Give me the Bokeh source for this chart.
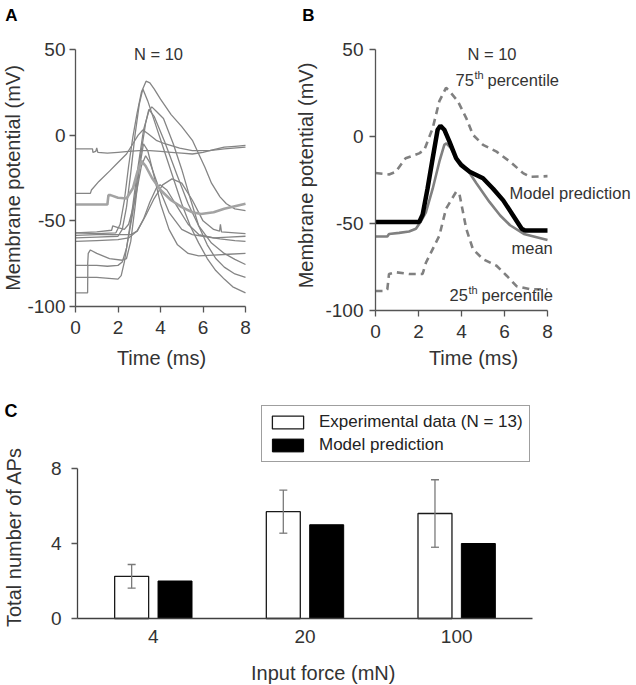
import math
from bokeh.plotting import figure
from bokeh.models import (Range1d, FixedTicker, Label, Legend, LegendItem,
                          Whisker, TeeHead, ColumnDataSource)
from bokeh.layouts import column, row
from bokeh.embed import file_html
from bokeh.resources import INLINE

# ---------------- DATA ----------------
# Panel A: individual recorded traces (time in ms, membrane potential in mV)
t_tr0 = [0, 0.8, 0.82, 0.95, 1.0, 1.05, 1.5, 2.0, 2.5, 3.0, 3.5, 4.0, 4.5, 5.0, 5.5, 6.0, 6.5, 7.0, 7.5, 8.0]
v_tr0 = [-8, -8, -10, -9.5, -7.5, -10, -10.5, -10, -9.5, -9, -9, -9.5, -10, -10.5, -11, -10, -8.5, -7, -6.5, -6]

t_tr1 = [0, 0.7, 0.75, 1.1, 1.6, 2.0, 2.4, 2.7, 2.95, 3.17, 3.4, 3.8, 4.2, 4.9, 5.5, 6.3, 7.0, 8.0]
v_tr1 = [-34, -34, -32, -27, -21, -16, -11, -5, 0, 3, 1, -3, -5, -7.5, -9, -9, -8, -7]

t_tr2 = [0, 1.5, 1.55, 1.65, 2.0, 2.4, 2.7, 2.9, 3.1, 3.3, 3.6, 4.0, 4.5, 5.0, 5.5, 5.9, 6.5, 7.0, 8.0]
v_tr2 = [-40.5, -40.5, -35, -35, -36.5, -37, -31, -22, -15, -18, -25, -32, -38, -42, -45, -46, -45, -43, -40]

t_tr3 = [0, 1.0, 1.9, 2.1, 2.3, 2.5, 2.7, 2.9, 3.1, 3.32, 3.5, 3.7, 4.0, 4.5, 5.0, 5.5, 5.8, 6.1, 6.4, 6.8, 7.1, 7.5, 8.0]
v_tr3 = [-57, -57.5, -57, -52, -38, -18, -1, 13, 25, 31.5, 30.5, 27, 21, 12, 5, -3, -11, -19, -28, -36, -40, -43, -44]

t_tr4 = [0, 1.0, 2.0, 2.2, 2.4, 2.6, 2.8, 3.0, 3.17, 3.4, 3.8, 4.2, 4.6, 5.0, 5.4, 5.8, 6.2, 6.6, 7.0, 7.4, 8.0]
v_tr4 = [-60, -59.5, -59, -55, -42, -22, 0, 18, 27, 20, 5, -10, -25, -40, -53, -63, -72, -79, -84, -88.5, -92]

t_tr5 = [0, 1.0, 2.0, 2.15, 2.3, 2.6, 2.9, 3.2, 3.45, 3.59, 3.8, 4.14, 4.6, 5.0, 5.4, 5.8, 6.2, 6.6, 7.0, 7.5, 8.0]
v_tr5 = [-83, -83, -84, -82, -74, -50, -22, 3, 14, 16.5, 14, 9.7, -5, -20, -37, -53, -64, -72, -77, -81, -83]

t_tr6 = [0, 0.57, 0.58, 1.0, 1.5, 2.0, 2.2, 2.4, 2.7, 3.0, 3.3, 3.45, 3.7, 4.2, 4.8, 5.3, 5.8, 6.4, 7.0, 7.5, 8.0]
v_tr6 = [-92, -92, -76, -76, -76.5, -76, -74, -66, -45, -17, 7, 15, 11, -4, -24, -40, -53, -63, -69, -72.5, -75.5]

t_tr7 = [0, 0.57, 0.6, 0.7, 1.0, 1.6, 2.2, 2.4, 2.6, 2.8, 3.0, 3.2, 3.4, 3.7, 4.0, 4.4, 4.8, 5.3, 5.8, 6.5, 7.2, 8.0]
v_tr7 = [-76, -76, -69, -67, -69, -72, -73, -72, -62, -42, -20, -5, -9, -24, -40, -55, -64, -69, -70.5, -70, -69.5, -69]

t_tr8 = [0, 1.0, 1.7, 1.75, 2.0, 2.3, 2.5, 2.8, 3.1, 3.3, 3.5, 3.9, 4.4, 5.0, 5.5, 6.0, 6.8, 7.5, 8.0]
v_tr8 = [-57, -56.5, -55.5, -53, -54, -55, -52, -38, -18, -12, -16, -30, -45, -55, -58, -59, -60.5, -61.5, -62]

t_tr9 = [0, 1.0, 2.0, 2.5, 2.9, 3.3, 3.7, 4.1, 4.54, 5.0, 5.5, 6.0, 6.5, 6.78, 6.82, 6.87, 7.5, 8.0]
v_tr9 = [-62, -61.5, -61, -60, -56, -47, -37, -29, -25.5, -28, -38, -50, -55, -56, -52, -56.5, -57, -57.5]

t_tr10 = [0, 1.0, 2.0, 2.6, 2.9, 3.2, 3.5, 3.8, 3.98, 4.3, 4.8, 5.3, 5.8, 6.5, 7.2, 8.0]
v_tr10 = [-58.5, -58, -58, -58, -56, -49, -39, -31, -29, -32, -42, -52, -58, -60, -59.5, -59]

# Panel B: summary curves
t_model = [0, 2.03, 2.19, 2.42, 2.66, 2.89, 3.02, 3.2, 3.44, 3.75, 3.98, 4.38, 5.0, 5.47, 5.94, 6.4, 6.8, 6.95, 8.0]
v_model = [-49.2, -49.2, -45, -30, -12.5, 3.9, 6.2, 3.9, -2.9, -12.5, -16.4, -20.3, -24, -30, -36.7, -45.4, -53, -54, -54]

t_mean = [0, 0.55, 0.63, 1.1, 1.56, 1.88, 2.1, 2.35, 2.66, 2.97, 3.2, 3.3, 3.52, 3.75, 4.23, 4.7, 5.3, 5.8, 6.26, 6.9, 8.0]
v_mean = [-57.5, -57.5, -56, -55.4, -54.6, -53, -49, -43.4, -30, -14.5, -4.8, -3.9, -6.8, -12.5, -18.3, -27, -37.6, -45.4, -51, -56, -59.5]

t_p75 = [0, 0.63, 0.94, 1.4, 2.03, 2.27, 2.66, 2.97, 3.28, 3.44, 3.83, 4.22, 4.53, 5.0, 5.63, 6.26, 6.88, 7.2, 8.0]
v_p75 = [-21, -21.8, -20.3, -12.5, -9.7, -7.7, 4.8, 20.3, 28, 26, 20.3, 10.6, 1, -4.8, -8.7, -14.5, -21.2, -23.2, -22.8]

t_p25 = [0, 0.47, 0.55, 0.63, 0.94, 1.56, 2.19, 2.35, 2.66, 2.97, 3.28, 3.75, 3.9, 4.22, 4.53, 5.0, 5.63, 6.1, 6.56, 7.2, 8.0]
v_p25 = [-88.8, -88.8, -87.8, -79, -78, -79, -79, -72.4, -64.7, -57, -41.5, -31.8, -32.8, -53, -64.7, -70.5, -74.3, -80, -86, -87.8, -87.8]

# Panel C: bar chart
forces = ["4", "20", "100"]
exp_mean = [2.25, 5.7, 5.6]
exp_err = [0.63, 1.15, 1.8]
model_aps = [2, 5, 4]

time_ticks = [0, 2, 4, 6, 8]
vm_ticks = [-100, -50, 0, 50]
ap_ticks = [0, 4, 8]

# ---------------- STYLE ----------------
FONT = "Liberation Sans"
TXT = "#333333"
AX = "#555555"
TRACE = "#858585"
THICK = "#a3a3a3"
GREY = "#808080"


def style(p, xstand, ystand, xloc, yloc, xbounds, ybounds, xtick_out=6):
    p.grid.visible = False
    p.outline_line_color = None
    for ax in p.axis:
        ax.axis_line_color = AX
        ax.axis_line_width = 1.3
        ax.major_tick_line_color = AX
        ax.major_tick_line_width = 1.3
        ax.major_tick_in = 0
        ax.major_tick_out = 6
        ax.minor_tick_line_color = None
        ax.major_label_text_font = FONT
        ax.major_label_text_font_size = "19px"
        ax.major_label_text_color = TXT
    p.xaxis.major_label_standoff = xstand
    p.yaxis.major_label_standoff = ystand
    p.xaxis.major_tick_out = xtick_out
    p.xaxis.fixed_location = xloc
    p.yaxis.fixed_location = yloc
    p.xaxis.bounds = xbounds
    p.yaxis.bounds = ybounds


def lab(p, x, y, text, size="16.5px", align="left", angle=0.0, bold=False, color=TXT):
    p.add_layout(Label(x=x, y=y, text=text, text_font=FONT, text_font_size=size,
                       text_color=color, text_align=align, text_baseline="middle",
                       angle=angle, text_font_style="bold" if bold else "normal"))


def fig(w, h, xr, yr):
    return figure(width=w, height=h, x_range=Range1d(*xr), y_range=Range1d(*yr),
                  min_border=0, min_border_left=0, min_border_right=0,
                  min_border_top=0, min_border_bottom=0,
                  toolbar_location=None, output_backend="svg")


hyphen = {-100: "-100", -50: "-50"}

# canvas edges (page pixels)
A_X0, A_X1 = 0, 290
B_X0, B_X1 = 290, 634
TOP_Y0, TOP_Y1 = 0, 373
C_X0, C_X1 = 0, 628
C_Y0, C_Y1 = 373, 684

# ---------------- PANEL A ----------------
A_sx = 170 / 8.0
A_sy = 257 / 150.0
def a_t(px): return (px - 75) / A_sx
def a_v(py): return 50 - (py - 49) / A_sy

pA = fig(A_X1 - A_X0, TOP_Y1 - TOP_Y0, (a_t(A_X0), a_t(A_X1)), (a_v(TOP_Y1), a_v(TOP_Y0)))
pA.xaxis.ticker = FixedTicker(ticks=time_ticks)
pA.yaxis.ticker = FixedTicker(ticks=vm_ticks)
pA.yaxis.major_label_overrides = hyphen
style(pA, 8, 4, vm_ticks[0], time_ticks[0], (time_ticks[0], time_ticks[-1]), (vm_ticks[0], vm_ticks[-1]))

thin_traces = [(t_tr0, v_tr0), (t_tr1, v_tr1), (t_tr3, v_tr3), (t_tr4, v_tr4), (t_tr5, v_tr5),
               (t_tr6, v_tr6), (t_tr7, v_tr7), (t_tr8, v_tr8), (t_tr9, v_tr9), (t_tr10, v_tr10)]
for tt, vv in thin_traces:
    pA.line(tt, vv, line_color=TRACE, line_width=1.3)
pA.line(t_tr2, v_tr2, line_color=THICK, line_width=2.6)

lab(pA, a_t(158), a_v(53), "N = 10", align="center")
lab(pA, a_t(12.5), a_v(177.5), "Membrane potential (mV)", size="20px", align="center", angle=math.pi / 2)
lab(pA, a_t(161), a_v(357), "Time (ms)", size="20px", align="center")
lab(pA, a_t(11), a_v(14.5), "A", size="17px", align="center", bold=True, color="#000000")

# ---------------- PANEL B ----------------
B_sx = 172 / 8.0
B_sy = 261 / 150.0
def b_t(px): return (px - 375) / B_sx
def b_v(py): return 50 - (py - 49) / B_sy

pB = fig(B_X1 - B_X0, TOP_Y1 - TOP_Y0, (b_t(B_X0), b_t(B_X1)), (b_v(TOP_Y1), b_v(TOP_Y0)))
pB.xaxis.ticker = FixedTicker(ticks=time_ticks)
pB.yaxis.ticker = FixedTicker(ticks=vm_ticks)
pB.yaxis.major_label_overrides = hyphen
style(pB, 8, 6, vm_ticks[0], time_ticks[0], (time_ticks[0], time_ticks[-1]), (vm_ticks[0], vm_ticks[-1]))

pB.line(t_p75, v_p75, line_color=GREY, line_width=2.6, line_dash="7 5")
pB.line(t_p25, v_p25, line_color=GREY, line_width=2.6, line_dash="7 5")
pB.line(t_mean, v_mean, line_color=GREY, line_width=2.6)
pB.line(t_model, v_model, line_color="#000000", line_width=4.5)

lab(pB, b_t(491.5), b_v(53), "N = 10", align="center")
for base_px, base_py, num in [(455, 79, "75"), (449, 294, "25")]:
    lab(pB, b_t(base_px), b_v(base_py), num)
    lab(pB, b_t(base_px + 19), b_v(base_py - 4.5), "th", size="11px")
    lab(pB, b_t(base_px + 32), b_v(base_py), "percentile")
lab(pB, b_t(509), b_v(192), "Model prediction")
lab(pB, b_t(511), b_v(247), "mean")
lab(pB, b_t(305), b_v(175), "Membrane potential (mV)", size="20px", align="center", angle=math.pi / 2)
lab(pB, b_t(473), b_v(357), "Time (ms)", size="20px", align="center")
lab(pB, b_t(308), b_v(14.5), "B", size="17px", align="center", bold=True, color="#000000")

# ---------------- PANEL C ----------------
C_sx = 455 / 3.0
C_sy = 150 / 8.0
def c_x(px): return (px - 77) / C_sx - 0.5
def c_y(py): return (618 - py) / C_sy

pC = fig(C_X1 - C_X0, C_Y1 - C_Y0, (c_x(C_X0), c_x(C_X1)), (c_y(C_Y1), c_y(C_Y0)))
idx = list(range(len(forces)))
pC.xaxis.ticker = FixedTicker(ticks=idx)
pC.xaxis.major_label_overrides = {i: f for i, f in zip(idx, forces)}
pC.yaxis.ticker = FixedTicker(ticks=ap_ticks)
style(pC, 11, 10, ap_ticks[0], -0.5, (-0.5, len(forces) - 0.5), (ap_ticks[0], ap_ticks[-1]), xtick_out=0)
pC.xaxis.axis_line_color = "#404040"
pC.yaxis.axis_line_color = "#404040"

off = 0.143
bw = 0.224
src = ColumnDataSource(dict(
    xe=[i - off for i in idx], xm=[i + off for i in idx],
    exp=exp_mean, mod=model_aps,
    up=[m + e for m, e in zip(exp_mean, exp_err)],
    lo=[m - e for m, e in zip(exp_mean, exp_err)],
))
r_exp = pC.vbar(x="xe", top="exp", width=bw, bottom=0, source=src,
                fill_color="#ffffff", line_color="#1a1a1a", line_width=1.3)
r_mod = pC.vbar(x="xm", top="mod", width=bw, bottom=0, source=src,
                fill_color="#000000", line_color="#000000", line_width=1.0)
ERR = "#7a7a7a"
pC.add_layout(Whisker(source=src, base="xe", upper="up", lower="lo", dimension="height",
                      line_color=ERR, line_width=1.3, level="overlay",
                      upper_head=TeeHead(size=8, line_color=ERR, line_width=1.3),
                      lower_head=TeeHead(size=8, line_color=ERR, line_width=1.3)))

legend = Legend(items=[LegendItem(label="Experimental data (N = 13)", renderers=[r_exp]),
                       LegendItem(label="Model prediction", renderers=[r_mod])],
                location=(261 - C_X0, C_Y1 - 462), orientation="vertical", margin=0,
                glyph_width=39, glyph_height=16, label_standoff=12, padding=6, spacing=3,
                label_height=20, label_text_font=FONT, label_text_font_size="17px",
                label_text_color="#222222", border_line_color="#404040", border_line_width=1.3,
                background_fill_color="#ffffff", background_fill_alpha=1.0)
pC.add_layout(legend)

lab(pC, c_x(13), c_y(536.5), "Total number of APs", size="20px", align="center", angle=math.pi / 2)
lab(pC, c_x(322.7), c_y(672), "Input force (mN)", size="20px", align="center")
lab(pC, c_x(10.5), c_y(410.5), "C", size="18px", align="center", bold=True, color="#000000")

layout = column(row(pA, pB), pC)
open("out.html", "w").write(file_html(layout, INLINE))
